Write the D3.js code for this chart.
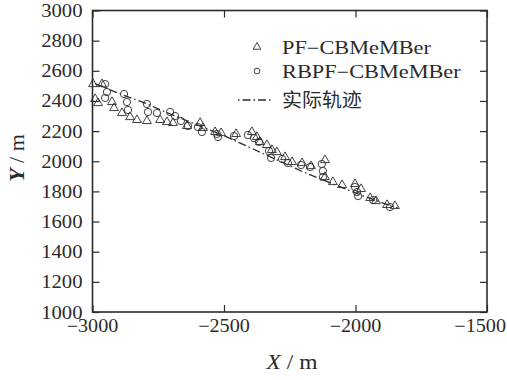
<!DOCTYPE html>
<html><head><meta charset="utf-8">
<script src="https://cdn.jsdelivr.net/npm/d3@7"></script>
<style>body{margin:0;background:#fff}svg{display:block}</style>
</head><body>
<script>
const xTicks = [-3000, -2500, -2000, -1500];
const yTicks = [1000, 1200, 1400, 1600, 1800, 2000, 2200, 2400, 2600, 2800, 3000];
const legendLabels = ["PF\u2212CBMeMBer", "RBPF\u2212CBMeMBer", "实际轨迹"];
const truthX = [-2990, -2900, -2800, -2700, -2600, -2500, -2400, -2300, -2200, -2100, -2000, -1900, -1840];
const truthY = [2515, 2450, 2385, 2310, 2240, 2170, 2090, 2010, 1930, 1860, 1790, 1725, 1690];
const pfX = [-2998,-2964,-2990,-2979,-2926,-2918,-2888,-2857,-2831,-2793,-2743,-2717,-2694,-2641,-2591,-2580,-2534,-2511,-2454,-2394,-2375,-2363,-2337,-2318,-2299,-2268,-2241,-2203,-2169,-2116,-2116,-2086,-2051,-2002,-1979,-1944,-1922,-1880,-1850];
const pfY = [2512,2512,2413,2386,2393,2353,2320,2293,2274,2267,2274,2260,2254,2234,2254,2221,2194,2187,2181,2194,2161,2128,2108,2075,2061,2028,1995,1988,1968,2008,1895,1862,1842,1849,1816,1756,1736,1710,1703];
const rbX = [-2952,-2945,-2952,-2880,-2869,-2865,-2793,-2789,-2755,-2705,-2686,-2664,-2637,-2599,-2584,-2527,-2523,-2462,-2409,-2386,-2367,-2329,-2321,-2279,-2257,-2207,-2173,-2128,-2124,-2124,-2002,-1994,-1990,-1933,-1869];
const rbY = [2512,2459,2420,2446,2393,2340,2380,2327,2320,2327,2300,2267,2234,2227,2194,2181,2161,2167,2174,2154,2128,2068,2022,2015,1988,1975,1962,1982,1935,1895,1829,1796,1769,1743,1696];

const W = 507, H = 380;
const L = 92.5, R = 487, T = 10.5, B = 312;
const SX = 1.12;
const ink = "#2b2b2b";
const serif = "'Liberation Serif','DejaVu Serif',serif";

const svg = d3.select("body").append("svg").attr("width", W).attr("height", H);
const x = d3.scaleLinear().domain([-3000, -1500]).range([L, R]);
const y = d3.scaleLinear().domain([1000, 3000]).range([B, T]);

function txt(g, str, px, py, opts) {
  const t = g.append("text")
    .attr("transform", `translate(${px},${py}) scale(${opts.sx || SX},1)` + (opts.rot ? ` rotate(${opts.rot})` : ""))
    .attr("text-anchor", opts.anchor || "start")
    .attr("font-family", opts.family || serif)
    .attr("font-size", opts.size || 18)
    .attr("fill", ink);
  if (opts.html) t.html(str); else t.text(str);
  return t;
}

const tickLen = 7;
const gx = svg.append("g").attr("transform", `translate(0,${B})`)
  .call(d3.axisBottom(x).tickValues(xTicks).tickSize(-tickLen).tickFormat(""));
const gxt = svg.append("g").attr("transform", `translate(0,${T})`)
  .call(d3.axisTop(x).tickValues(xTicks).tickSize(-tickLen).tickFormat(""));
const gy = svg.append("g").attr("transform", `translate(${L},0)`)
  .call(d3.axisLeft(y).tickValues(yTicks).tickSize(-tickLen).tickFormat(""));
const gyr = svg.append("g").attr("transform", `translate(${R},0)`)
  .call(d3.axisRight(y).tickValues(yTicks).tickSize(-tickLen).tickFormat(""));
[gx, gxt, gy, gyr].forEach(g => {
  g.select(".domain").remove();
  g.selectAll("line").attr("stroke", ink).attr("stroke-width", 1.2);
});
svg.append("rect").attr("x", L).attr("y", T).attr("width", R - L).attr("height", B - T)
  .attr("fill", "none").attr("stroke", ink).attr("stroke-width", 1.6);

const labG = svg.append("g");
xTicks.forEach(v => {
  if (v === -1500) txt(labG, "\u2212" + Math.abs(v), 506, B + 20, {anchor: "end"});
  else txt(labG, "\u2212" + Math.abs(v), x(v), B + 20, {anchor: "middle"});
});
yTicks.forEach(v => txt(labG, String(v), L - 10, y(v) + 6.5, {anchor: "end", sx: 1.15}));

txt(labG, '<tspan font-style="italic">X</tspan> / m', 292, 369, {anchor: "middle", size: 21, html: true});
txt(labG, '<tspan font-style="italic" font-weight="bold">Y</tspan> / m', 24, 158, {anchor: "middle", size: 22, html: true, sx: 1, rot: -90});

const truth = truthX.map((v, i) => [v, truthY[i]]);
svg.append("path").datum(truth)
  .attr("d", d3.line().x(d => x(d[0])).y(d => y(d[1])))
  .attr("fill", "none").attr("stroke", ink).attr("stroke-width", 1.3)
  .attr("stroke-dasharray", "8,3,1.5,3");

const triSym = d3.symbol().type(d3.symbolTriangle).size(34);
const circSym = d3.symbol().type(d3.symbolCircle).size(42);

svg.append("g").selectAll("path").data(pfX.map((v, i) => [v, pfY[i]])).join("path")
  .attr("d", triSym).attr("transform", d => `translate(${x(d[0])},${y(d[1])})`)
  .attr("fill", "none").attr("stroke", ink).attr("stroke-width", 0.9);
svg.append("g").selectAll("path").data(rbX.map((v, i) => [v, rbY[i]])).join("path")
  .attr("d", circSym).attr("transform", d => `translate(${x(d[0])},${y(d[1])})`)
  .attr("fill", "none").attr("stroke", ink).attr("stroke-width", 0.9);

const lg = svg.append("g");
const rows = [47, 71, 100];
lg.append("path").attr("d", d3.symbol().type(d3.symbolTriangle).size(26)).attr("transform", `translate(257,${rows[0]})`)
  .attr("fill", "none").attr("stroke", ink).attr("stroke-width", 0.9);
lg.append("path").attr("d", d3.symbol().type(d3.symbolCircle).size(26)).attr("transform", `translate(257,${rows[1]})`)
  .attr("fill", "none").attr("stroke", ink).attr("stroke-width", 0.9);
lg.append("line").attr("x1", 238).attr("x2", 272).attr("y1", rows[2]).attr("y2", rows[2])
  .attr("stroke", ink).attr("stroke-width", 1.3).attr("stroke-dasharray", "1.5,3,8,3");
txt(lg, legendLabels[0], 282, rows[0] + 6.5, {size: 18, sx: 1.24});
txt(lg, legendLabels[1], 282, rows[1] + 6.5, {size: 18, sx: 1.24});
txt(lg, legendLabels[2], 282, rows[2] + 7, {size: 19, family: "'Noto Sans CJK SC',serif", sx: 1.05});
</script>
</body></html>
